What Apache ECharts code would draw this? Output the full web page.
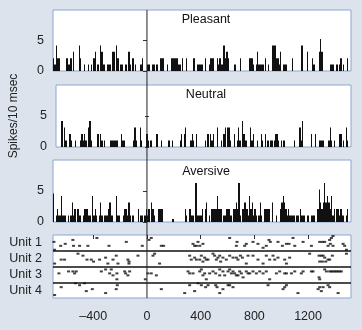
<!DOCTYPE html>
<html><head><meta charset="utf-8">
<script src="https://cdn.jsdelivr.net/npm/echarts@6/dist/echarts.min.js"></script>
<style>html,body{margin:0;padding:0;background:#dde3ed;}#c{width:362px;height:330px;}</style>
</head><body><div id="c"></div>
<script>
// x range (ms) and tick values
const xMin = -700, xMax = 1520, binWidth = 10;
const xTicks = [-400, 0, 400, 800, 1200];
const yTicks = [0, 5];
const panelTitles = ['Pleasant', 'Neutral', 'Aversive'];
const unitLabels = ['Unit 1', 'Unit 2', 'Unit 3', 'Unit 4'];
const trialsPerUnit = 8;

// PSTH bins: [bin start ms, spikes/10 msec]
const pleasant = [[-700,2.1],[-690,1.05],[-680,4.2],[-670,2.1],[-660,2.1],[-600,2.1],[-590,1.05],[-580,1.05],[-570,2.1],[-550,3.15],[-510,4.2],[-500,2.1],[-470,1.05],[-440,1.05],[-420,1.05],[-400,2.1],[-390,3.15],[-370,1.05],[-350,4.2],[-340,3.15],[-330,1.05],[-320,1.05],[-300,1.05],[-290,1.05],[-280,1.05],[-260,3.15],[-250,3.15],[-230,4.2],[-220,2.1],[-200,1.05],[-190,1.05],[-160,1.05],[-140,3.15],[-130,1.05],[-110,2.1],[-90,1.05],[-50,1.05],[-40,2.1],[0,1.05],[10,1.05],[40,1.05],[50,1.05],[70,1.05],[100,2.1],[110,2.1],[120,2.1],[150,1.05],[180,2.1],[190,2.1],[200,2.1],[210,2.1],[220,2.1],[230,1.05],[240,1.05],[260,2.1],[290,2.1],[340,2.1],[350,2.1],[370,1.05],[380,1.05],[390,1.05],[400,1.05],[410,1.05],[430,2.1],[460,1.05],[470,2.1],[480,2.1],[490,2.1],[520,2.1],[530,1.05],[540,2.1],[550,1.05],[560,1.05],[570,4.2],[580,2.1],[590,3.15],[600,2.1],[650,1.05],[690,2.1],[760,2.1],[770,2.1],[780,2.1],[790,1.05],[810,1.05],[820,3.15],[830,1.05],[840,1.05],[850,1.05],[860,1.05],[880,2.1],[900,1.05],[930,4.2],[940,4.2],[950,4.2],[960,2.1],[970,2.1],[980,1.05],[990,3.15],[1010,1.05],[1020,1.05],[1030,1.05],[1080,2.1],[1150,4.2],[1190,3.15],[1230,2.1],[1240,1.05],[1280,3.15],[1290,5.25],[1300,3.15],[1360,1.05],[1370,1.05],[1380,1.05],[1410,1.05],[1430,1.05],[1440,2.1],[1460,1.05],[1490,2.1]];
const neutral = [[-660,4.2],[-640,3.15],[-630,1.05],[-600,2.1],[-590,1.05],[-560,1.05],[-520,1.05],[-510,2.1],[-500,1.05],[-490,2.1],[-480,1.05],[-460,3.15],[-450,4.2],[-440,1.05],[-390,2.1],[-370,2.1],[-360,1.05],[-340,1.05],[-290,1.05],[-280,1.05],[-270,1.05],[-260,1.05],[-250,1.05],[-240,1.05],[-210,2.1],[-200,1.05],[-190,1.05],[-120,1.05],[-110,3.15],[-100,1.05],[-70,3.15],[-60,1.05],[-20,2.1],[-10,1.05],[10,1.05],[50,2.1],[60,2.1],[90,1.05],[140,1.05],[150,1.05],[170,1.05],[230,1.05],[240,2.1],[260,2.1],[270,3.15],[310,1.05],[320,2.1],[330,1.05],[350,2.1],[420,1.05],[440,2.1],[460,2.1],[470,1.05],[480,2.1],[510,3.15],[540,1.05],[560,2.1],[570,3.15],[590,3.15],[600,3.15],[610,1.05],[640,2.1],[660,1.05],[670,3.15],[680,1.05],[700,4.2],[710,2.1],[720,1.05],[730,1.05],[760,3.15],[770,1.05],[780,2.1],[810,1.05],[840,2.1],[850,1.05],[870,2.1],[890,1.05],[910,1.05],[920,1.05],[940,1.05],[950,2.1],[960,2.1],[970,1.05],[990,1.05],[1010,1.05],[1090,1.05],[1130,3.15],[1140,1.05],[1150,4.2],[1220,2.1],[1250,2.1],[1280,1.05],[1290,1.05],[1300,1.05],[1310,1.05],[1350,1.05],[1360,3.15],[1370,1.05],[1390,1.05],[1430,2.1],[1440,2.1],[1460,1.05],[1480,3.15],[1490,1.05]];
const aversive = [[-700,4.6],[-680,1.05],[-670,2.1],[-660,1.05],[-650,1.05],[-640,4.2],[-630,1.05],[-620,1.05],[-610,1.05],[-590,1.05],[-570,1.05],[-560,3.15],[-550,1.05],[-540,2.1],[-520,2.1],[-510,1.05],[-500,1.05],[-480,1.05],[-470,2.1],[-460,2.1],[-450,2.1],[-440,1.05],[-430,1.05],[-410,4.2],[-400,1.05],[-390,2.1],[-380,1.05],[-360,1.05],[-350,3.15],[-340,1.05],[-320,1.05],[-310,1.05],[-300,1.05],[-290,2.1],[-280,3.15],[-270,1.05],[-260,1.05],[-230,4.2],[-220,1.05],[-210,1.05],[-180,1.05],[-170,2.1],[-160,2.1],[-150,1.05],[-140,3.15],[-130,1.05],[-110,1.05],[-70,2.1],[-50,1.05],[-40,1.05],[-20,1.05],[-10,2.1],[0,1.05],[10,2.1],[30,3.15],[40,2.1],[50,1.05],[80,2.1],[90,2.1],[100,2.1],[110,2.1],[190,0.5],[280,2.1],[290,1.05],[310,2.1],[320,2.1],[330,1.05],[340,1.05],[360,6.3],[370,1.05],[380,1.05],[390,1.05],[400,1.05],[410,2.1],[430,2.1],[440,3.15],[460,1.05],[480,2.1],[490,2.1],[500,2.1],[510,2.1],[520,4.2],[530,2.1],[540,2.1],[550,2.1],[570,1.05],[580,1.05],[590,2.1],[600,2.1],[610,2.1],[620,1.05],[640,2.1],[650,2.1],[660,3.15],[670,2.1],[680,6.3],[690,1.05],[710,2.1],[720,3.15],[730,3.15],[740,2.1],[750,1.05],[760,4.2],[770,2.1],[780,3.15],[790,1.05],[800,2.1],[810,1.05],[830,1.05],[840,3.15],[850,1.05],[870,2.1],[880,2.1],[890,2.1],[900,2.1],[910,2.1],[930,3.15],[960,1.05],[990,2.1],[1000,3.15],[1010,4.2],[1020,3.15],[1030,2.1],[1040,1.05],[1050,2.1],[1060,1.05],[1070,1.05],[1080,1.05],[1090,1.05],[1110,1.05],[1120,1.05],[1140,2.1],[1150,1.05],[1160,1.05],[1170,1.05],[1190,1.05],[1200,1.05],[1220,1.05],[1230,1.05],[1240,1.05],[1270,2.1],[1280,5.25],[1290,3.15],[1300,2.1],[1310,3.15],[1320,6.3],[1330,3.15],[1340,4.2],[1350,3.15],[1360,2.1],[1370,4.2],[1380,1.05],[1390,2.1],[1410,2.1],[1420,2.1],[1430,1.05],[1440,2.1],[1450,1.05],[1460,1.05],[1480,1.05],[1490,2.1]];

// Raster: [spike time ms, trial number within unit]
const unit1 = [[-693,4],[-688,8],[-643,6],[-609,5],[-552,3],[-547,6],[-502,6],[-440,6],[-373,2],[-283,6],[-154,4],[-35,6],[15,3],[32,2],[107,6],[124,6],[343,5],[355,6],[368,6],[380,4],[393,6],[417,5],[616,2],[666,6],[671,4],[728,6],[740,5],[790,4],[827,5],[865,7],[889,6],[909,3],[919,4],[976,4],[1009,6],[1039,5],[1058,5],[1088,2],[1101,6],[1163,4],[1225,6],[1287,4],[1307,4],[1324,4],[1349,6],[1361,3],[1374,2],[1386,1],[1366,5],[1386,6],[1461,5],[1473,6],[1486,8]];
const unit2 = [[-688,7],[-639,5],[-614,5],[-514,2],[-477,3],[-447,5],[-415,5],[-398,6],[-353,5],[-308,4],[-291,7],[-253,5],[-229,3],[-216,7],[-142,5],[-134,6],[-134,7],[-67,3],[45,3],[57,2],[94,7],[318,3],[330,5],[355,4],[368,5],[393,5],[405,3],[417,6],[430,4],[442,5],[455,5],[492,2],[504,3],[517,5],[529,4],[542,3],[549,6],[566,4],[591,5],[616,3],[641,4],[666,4],[678,5],[696,3],[711,4],[740,7],[753,3],[790,3],[827,5],[865,7],[889,3],[914,5],[939,3],[952,5],[976,4],[1026,5],[1039,7],[1063,4],[1212,2],[1282,3],[1299,3],[1312,3],[1324,4],[1287,6],[1307,6],[1332,6],[1349,5],[1361,5],[1381,3],[1486,2]];
const unit3 = [[-656,4],[-584,3],[-552,3],[-539,4],[-527,3],[-340,3],[-308,2],[-278,4],[-266,2],[-253,5],[-224,4],[-224,7],[-166,3],[-159,4],[-142,5],[-129,3],[-12,7],[7,4],[32,4],[70,5],[306,3],[318,4],[343,4],[393,3],[405,2],[417,5],[430,4],[442,7],[467,4],[492,3],[512,4],[542,2],[542,5],[566,3],[579,5],[604,3],[616,2],[629,4],[641,3],[653,4],[666,5],[678,5],[691,3],[703,4],[716,6],[740,3],[753,4],[765,4],[790,3],[815,4],[840,3],[865,4],[889,3],[914,7],[964,4],[989,3],[1026,4],[1039,4],[1076,4],[1101,3],[1150,4],[1163,3],[1225,3],[1237,3],[1282,6],[1287,7],[1324,2],[1337,3],[1361,3],[1374,3],[1386,3],[1399,3],[1411,3],[1423,3],[1436,3],[1448,3]];
const unit4 = [[-688,7],[-639,3],[-532,1],[-502,2],[-465,1],[-452,5],[-407,4],[-308,6],[-229,4],[-221,2],[107,4],[281,6],[318,2],[355,5],[380,1],[405,2],[437,3],[455,2],[512,2],[522,3],[542,6],[566,4],[604,2],[616,2],[641,3],[902,2],[1014,4],[1026,3],[1039,2],[1125,6],[1275,4],[1287,3],[1299,5],[1312,3],[1349,2],[1361,3],[1424,6]];

const FONT = 'Liberation Sans, Arial, Helvetica, sans-serif';
const INK = '#111';
const BORDER = '#8ea6cf';
const L = 53, R = 11;
const gridBoxes = [{top:10,height:61},{top:85,height:62},{top:160,height:62},{top:235,height:63}];

const grids = gridBoxes.map(b => ({left:L, right:R, top:b.top, height:b.height, show:true, backgroundColor:'#fff', borderColor:BORDER, borderWidth:1}));
grids.push({left:L, right:R, top:10, height:288, show:false});

const xAxes = [], yAxes = [], series = [];
const histData = [pleasant, neutral, aversive];
for (let i = 0; i < 3; i++) {
  xAxes.push({gridIndex:i, type:'value', min:xMin, max:xMax, show:false});
  yAxes.push({gridIndex:i, type:'value', min:0, max:10,
    name: i === 1 ? 'Spikes/10 msec' : '', nameLocation:'middle', nameGap:36,
    nameTextStyle:{fontFamily:FONT, fontSize:12, color:'#222'},
    axisLine:{show:false}, splitLine:{show:false},
    axisTick:{show:true, length:4, customValues:yTicks, lineStyle:{color:'#333'}},
    axisLabel:{customValues:yTicks, fontFamily:FONT, fontSize:12.5, color:'#222', margin:9}});
  series.push({type:'custom', xAxisIndex:i, yAxisIndex:i, data:histData[i], encode:{x:0,y:1}, clip:true,
    renderItem:(params, api) => {
      const t = api.value(0), v = api.value(1);
      const p0 = api.coord([t, 0]), p1 = api.coord([t + binWidth, v]);
      const x0 = Math.round(p0[0]);
      const w = Math.max(1, Math.round(p1[0]) - x0);
      return {type:'rect', shape:{x:x0, y:p1[1], width:w, height:p0[1]-p1[1]}, style:{fill:INK}};
    }});
}
// raster axes
xAxes.push({gridIndex:3, type:'value', min:xMin, max:xMax,
  axisLine:{show:false}, splitLine:{show:false},
  axisTick:{show:true, length:4, customValues:xTicks, lineStyle:{color:'#333'}},
  axisLabel:{customValues:xTicks, fontFamily:FONT, fontSize:12.5, color:'#222', margin:12,
    formatter: v => String(v).replace('-', '\u2013')}});
yAxes.push({gridIndex:3, type:'value', min:0, max:4, inverse:true,
  axisLine:{show:false}, splitLine:{show:false}, axisTick:{show:false},
  axisLabel:{customValues:[0.5,1.5,2.5,3.5], fontFamily:FONT, fontSize:12.5, color:'#222', margin:11,
    formatter: v => unitLabels[Math.floor(v)]}});
const units = [unit1, unit2, unit3, unit4];
units.forEach((u, k) => {
  series.push({type:'scatter', xAxisIndex:3, yAxisIndex:3, symbol:'rect', symbolSize:[3,2],
    itemStyle:{color:INK}, silent:true, animation:false,
    data: u.map(d => [d[0], k + (d[1] - 0.5) / trialsPerUnit])});
});
series.push({type:'line', xAxisIndex:3, yAxisIndex:3, data:[], silent:true,
  markLine:{symbol:'none', silent:true, label:{show:false}, lineStyle:{color:INK, width:1.6, type:'solid'},
    data:[{yAxis:1},{yAxis:2},{yAxis:3}]}});
// overlay for stimulus-onset line through all panels
xAxes.push({gridIndex:4, type:'value', min:xMin, max:xMax, show:false});
yAxes.push({gridIndex:4, type:'value', min:0, max:1, show:false});
series.push({type:'line', xAxisIndex:4, yAxisIndex:4, data:[[0,0],[0,1]], symbol:'none', silent:true,
  lineStyle:{color:'#222', width:1}, z:5});

const titleY = [20, 95, 172];
const graphics = panelTitles.map((t, i) => ({type:'text', x:206, y:titleY[i],
  style:{text:t, fontFamily:FONT, fontSize:12.5, fill:'#111', textAlign:'center', textVerticalAlign:'middle'}}));

const chart = echarts.init(document.getElementById('c'), null, {renderer:'canvas'});
chart.setOption({animation:false, backgroundColor:'#dde3ed', grid:grids, xAxis:xAxes, yAxis:yAxes, series:series, graphic:graphics});
</script></body></html>
